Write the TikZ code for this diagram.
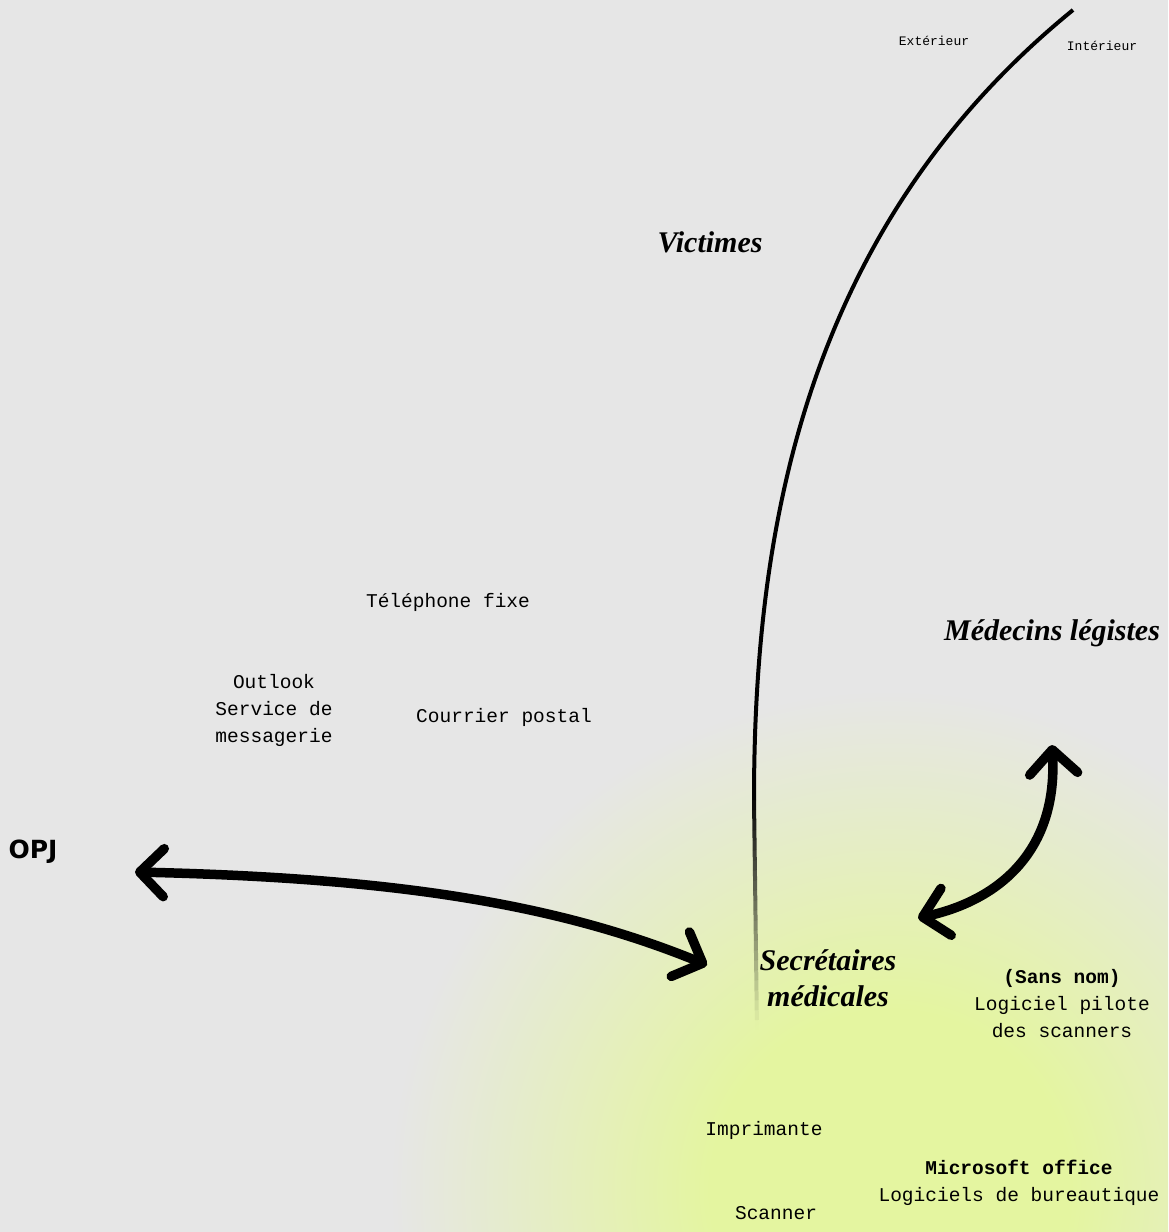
\documentclass[tikz,border=0pt]{standalone}
\usepackage{fontspec}
\setmainfont{Liberation Serif}
\setmonofont{Liberation Mono}
\newfontfamily\opjfont{DejaVu Sans}
\usetikzlibrary{arrows.meta,positioning}

\definecolor{bggray}{HTML}{E6E6E6}
\definecolor{glow}{HTML}{E4F5A0}
\pgfdeclareradialshading{glowshade}{\pgfpoint{0bp}{0bp}}{color(0bp)=(glow); color(4.5bp)=(glow); color(12.5bp)=(bggray); color(50bp)=(bggray)}

\begin{document}
\begin{tikzpicture}[
  x=1pt, y=-1pt,
  hand/.style={font=\fontsize{30}{36}\selectfont\bfseries\itshape, align=center},
  mono/.style={font=\fontsize{19.5}{27}\selectfont\ttfamily, align=center},
  tinymono/.style={font=\fontsize{13}{15}\selectfont\ttfamily},
  bigarrow/.style={{Straight Barb[length=24pt,width=48pt,round]}-{Straight Barb[length=24pt,width=48pt,round]}, line width=9.5pt},
  border/.style={line width=4pt}
]

% background and glow
\fill[bggray] (0,0) rectangle (1168,1232);
\begin{scope}
  \clip (0,0) rectangle (1168,1232);
  \shade[shading=glowshade] (890,1190) circle (1000);
\end{scope}

% inside / outside boundary
\draw[border] (1073,10) .. controls (800,232) and (754,540) .. (754,800);
\foreach \i in {0,...,22} {
  \pgfmathsetmacro\op{0.95-\i*0.043}
  \draw[border, line cap=butt, opacity=\op] ({754+\i*0.13},{800+\i*10}) -- ({754+(\i+1)*0.13},{810+\i*10});
}

\node[tinymono] (ext) at (934,41) {Extérieur};
\node[tinymono] (int) at (1102,46) {Intérieur};

% actors
\node[hand] (vict) at (710,242) {Victimes};
\node[hand] (medleg) at (1052,633) {Médecins légistes};
\node[font=\opjfont\bfseries\fontsize{25}{30}\selectfont] (opj) at (33,852) {OPJ};
\node[hand] (secr) at (828,978) {Secrétaires\\médicales};

% tools
\node[mono] (tel) at (448,602) {Téléphone fixe};
\node[mono] (outlook) at (274,710) {Outlook\\Service de\\messagerie};
\node[mono] (courrier) at (504,717) {Courrier postal};
\node[mono] (pilote) at (1062,1004) {\textbf{(Sans nom)}\\Logiciel pilote\\des scanners};
\node[mono] (imprim) at (764,1130) {Imprimante};
\node[mono] (office) at (1019,1183) {\textbf{Microsoft office}\\Logiciels de bureautique};
\node[mono] (scanner) at (776,1213) {Scanner};

% exchanges
\coordinate (opj-tip) at (135,872);
\coordinate (secr-left) at (707,965);
\coordinate (secr-right) at (918,918);
\coordinate (medleg-tip) at (1052,745);

\draw[bigarrow] (opj-tip) .. controls (400,878) and (560,905) .. (secr-left);
\draw[bigarrow] (secr-right) .. controls (1000,900) and (1058,850) .. (medleg-tip);

\end{tikzpicture}
\end{document}
